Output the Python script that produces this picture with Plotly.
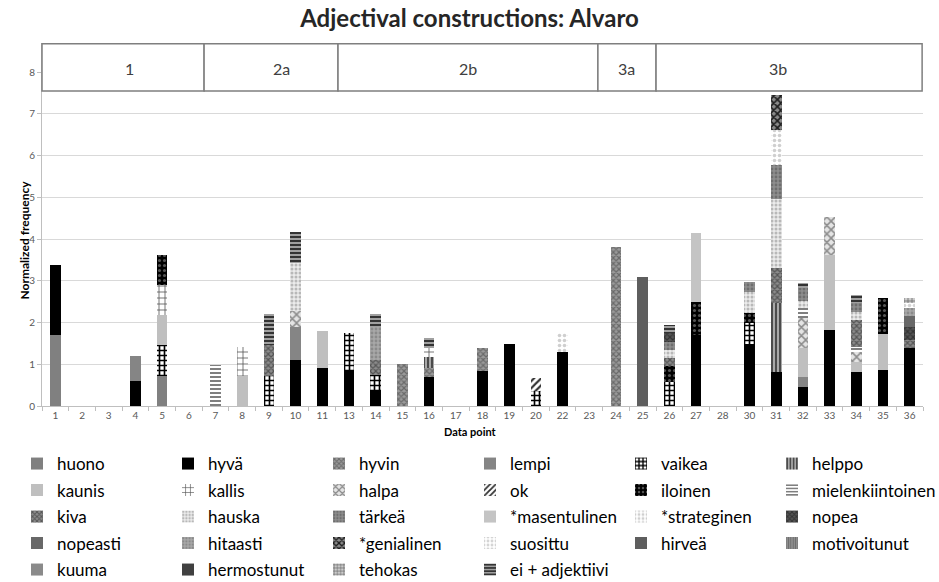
import plotly.graph_objects as go

# ---------------- data ----------------
categories = ["1", "2", "3", "4", "5", "6", "7", "8", "9", "10", "11",
              "13", "14", "15", "16", "17", "18", "19", "20", "22", "23",
              "24", "25", "26", "27", "28", "30", "31", "32", "33", "34", "35", "36"]

# values per category (rows: 1-11 | 13-23 | 24-36)
huono = [1.69, 0, 0, 0, 0.72, 0, 0, 0, 0, 0, 0,
         0, 0, 0, 0, 0, 0, 0, 0, 0, 0,
         0, 0, 0, 0, 0, 0, 0, 0, 0, 0, 0, 0]
hyva = [1.69, 0, 0, 0.60, 0, 0, 0, 0, 0, 1.11, 0.90,
        0.84, 0.39, 0, 0.70, 0, 0.84, 1.49, 0, 1.30, 0,
        0, 0, 0, 1.70, 0, 1.48, 0.82, 0.46, 1.82, 0.82, 0.86, 1.38]
hyvin = [0, 0, 0, 0, 0, 0, 0, 0, 0, 0, 0,
         0, 0, 1.00, 0.20, 0, 0.55, 0, 0, 0, 0,
         3.82, 0, 0, 0, 0, 0, 0, 0, 0, 0, 0, 0]
lempi = [0, 0, 0, 0.60, 0, 0, 0, 0, 0, 0.79, 0,
         0, 0, 0, 0, 0, 0, 0, 0, 0, 0,
         0, 0, 0, 0, 0, 0, 0, 0.23, 0, 0, 0, 0]
vaikea = [0, 0, 0, 0, 0.74, 0, 0, 0, 0.72, 0, 0,
          0.90, 0.35, 0, 0, 0, 0, 0, 0.36, 0, 0,
          0, 0, 0.58, 0, 0, 0.52, 0, 0, 0, 0, 0, 0]
helppo = [0, 0, 0, 0, 0, 0, 0, 0, 0, 0, 0,
          0, 0, 0, 0.28, 0, 0, 0, 0, 0, 0,
          0, 0, 0, 0, 0, 0, 1.65, 0, 0, 0, 0, 0]
kaunis = [0, 0, 0, 0, 0.72, 0, 0, 0.72, 0, 0, 0.90,
          0, 0, 0, 0, 0, 0, 0, 0, 0, 0,
          0, 0, 0, 0, 0, 0, 0, 0.69, 1.81, 0.24, 0.86, 0]
kallis = [0, 0, 0, 0, 0.72, 0, 0, 0.70, 0, 0, 0,
          0, 0, 0, 0.20, 0, 0, 0, 0, 0, 0,
          0, 0, 0, 0, 0, 0, 0, 0, 0, 0, 0, 0]
halpa = [0, 0, 0, 0, 0, 0, 0, 0, 0, 0.37, 0,
         0, 0, 0, 0, 0, 0, 0, 0, 0, 0,
         0, 0, 0, 0, 0, 0, 0, 0.74, 0.91, 0.24, 0, 0]
ok = [0, 0, 0, 0, 0, 0, 0, 0, 0, 0, 0,
      0, 0, 0, 0, 0, 0, 0, 0.30, 0, 0,
      0, 0, 0, 0, 0, 0, 0, 0, 0, 0, 0, 0]
iloinen = [0, 0, 0, 0, 0.71, 0, 0, 0, 0, 0, 0,
           0, 0, 0, 0, 0, 0, 0, 0, 0, 0,
           0, 0, 0.37, 0.80, 0, 0.24, 0, 0, 0, 0, 0.88, 0]
mielenkiintoinen = [0, 0, 0, 0, 0, 0, 0.98, 0, 0, 0, 0,
                    0, 0, 0, 0, 0, 0, 0, 0, 0, 0,
                    0, 0, 0, 0, 0, 0, 0, 0.23, 0, 0.12, 0, 0]
kiva = [0, 0, 0, 0, 0, 0, 0, 0, 0.74, 0, 0,
        0, 0.37, 0, 0, 0, 0, 0, 0, 0, 0,
        0, 0, 0.19, 0, 0, 0, 0.83, 0, 0, 0.64, 0, 0.20]
hauska = [0, 0, 0, 0, 0, 0, 0, 0, 0, 1.15, 0,
          0, 0, 0, 0, 0, 0, 0, 0, 0, 0,
          0, 0, 0.20, 0, 0, 0.50, 1.65, 0.17, 0, 0.20, 0, 0]
tarkea = [0, 0, 0, 0, 0, 0, 0, 0, 0, 0, 0,
          0, 0, 0, 0, 0, 0, 0, 0, 0, 0,
          0, 0, 0.20, 0, 0, 0.24, 0.83, 0.30, 0, 0.20, 0, 0]
masentulinen = [0, 0, 0, 0, 0, 0, 0, 0, 0, 0, 0,
                0, 0, 0, 0, 0, 0, 0, 0, 0, 0,
                0, 0, 0, 1.65, 0, 0, 0, 0, 0, 0, 0, 0]
strateginen = [0, 0, 0, 0, 0, 0, 0, 0, 0, 0, 0,
               0, 0, 0, 0, 0, 0, 0, 0, 0.44, 0,
               0, 0, 0, 0, 0, 0, 0.84, 0, 0, 0, 0, 0]
nopea = [0, 0, 0, 0, 0, 0, 0, 0, 0, 0, 0,
         0, 0, 0, 0, 0, 0, 0, 0, 0, 0,
         0, 0, 0.20, 0, 0, 0, 0, 0, 0, 0, 0, 0.32]
nopeasti = [0, 0, 0, 0, 0, 0, 0, 0, 0, 0, 0,
            0, 0, 0, 0, 0, 0, 0, 0, 0, 0,
            0, 0, 0, 0, 0, 0, 0, 0, 0, 0, 0, 0.25]
hitaasti = [0, 0, 0, 0, 0, 0, 0, 0, 0, 0, 0,
            0, 0.79, 0, 0, 0, 0, 0, 0, 0, 0,
            0, 0, 0, 0, 0, 0, 0, 0, 0, 0, 0, 0.19]
genialinen = [0, 0, 0, 0, 0, 0, 0, 0, 0, 0, 0,
              0, 0, 0, 0, 0, 0, 0, 0, 0, 0,
              0, 0, 0, 0, 0, 0, 0.84, 0, 0, 0, 0, 0]
suosittu = [0, 0, 0, 0, 0, 0, 0, 0, 0, 0, 0,
            0, 0, 0, 0, 0, 0, 0, 0, 0, 0,
            0, 0, 0, 0, 0, 0, 0, 0, 0, 0, 0, 0.12]
hirvea = [0, 0, 0, 0, 0, 0, 0, 0, 0, 0, 0,
          0, 0, 0, 0, 0, 0, 0, 0, 0, 0,
          0, 3.08, 0, 0, 0, 0, 0, 0, 0, 0, 0, 0]
motivoitunut = [0] * 33
kuuma = [0] * 33
hermostunut = [0] * 33
tehokas = [0, 0, 0, 0, 0, 0, 0, 0, 0, 0, 0,
           0, 0, 0, 0, 0, 0, 0, 0, 0, 0,
           0, 0, 0, 0, 0, 0, 0, 0, 0, 0, 0, 0.12]
ei_adjektiivi = [0, 0, 0, 0, 0, 0, 0, 0, 0.74, 0.74, 0,
                 0, 0.30, 0, 0.24, 0, 0, 0, 0, 0, 0,
                 0, 0, 0.20, 0, 0, 0, 0, 0.14, 0, 0.20, 0, 0]

series_names = ["huono", "hyvä", "hyvin", "lempi", "vaikea", "helppo",
                "kaunis", "kallis", "halpa", "ok", "iloinen", "mielenkiintoinen",
                "kiva", "hauska", "tärkeä", "*masentulinen", "*strateginen", "nopea",
                "nopeasti", "hitaasti", "*genialinen", "suosittu", "hirveä", "motivoitunut",
                "kuuma", "hermostunut", "tehokas", "ei + adjektiivi"]
series_values = [huono, hyva, hyvin, lempi, vaikea, helppo,
                 kaunis, kallis, halpa, ok, iloinen, mielenkiintoinen,
                 kiva, hauska, tarkea, masentulinen, strateginen, nopea,
                 nopeasti, hitaasti, genialinen, suosittu, hirvea, motivoitunut,
                 kuuma, hermostunut, tehokas, ei_adjektiivi]

group_labels = ["1", "2a", "2b", "3a", "3b"]

# ---------------- styles ----------------
# (shape, fgcolor, bgcolor, size, solidity)
styles = [
    ("", "#808080", "#808080", 6, 0.3),      # huono
    ("", "#000000", "#000000", 6, 0.3),      # hyvä
    ("x", "#6a6a6a", "#9a9a9a", 4, 0.5),     # hyvin
    ("", "#858585", "#858585", 6, 0.3),      # lempi
    ("+", "#000000", "#ffffff", 5, 0.55),    # vaikea
    ("|", "#333333", "#a8a8a8", 4, 0.4),     # helppo
    ("", "#bfbfbf", "#bfbfbf", 6, 0.3),      # kaunis
    ("+", "#555555", "#ffffff", 6, 0.25),    # kallis
    ("x", "#8c8c8c", "#e4e4e4", 6, 0.45),    # halpa
    ("/", "#333333", "#ffffff", 5, 0.45),    # ok
    (".", "#555555", "#000000", 5, 0.3),     # iloinen
    ("-", "#707070", "#ffffff", 4, 0.45),    # mielenkiintoinen
    ("x", "#555555", "#8c8c8c", 4, 0.5),     # kiva
    (".", "#b8b8b8", "#ececec", 4, 0.45),    # hauska
    (".", "#6e6e6e", "#8e8e8e", 4, 0.4),     # tärkeä
    ("", "#c4c4c4", "#c4c4c4", 6, 0.3),      # masentulinen
    (".", "#cfcfcf", "#ffffff", 5, 0.4),     # strateginen
    ("x", "#333333", "#555555", 4, 0.5),     # nopea
    ("", "#686868", "#686868", 6, 0.3),      # nopeasti
    (".", "#8a8a8a", "#a8a8a8", 4, 0.4),     # hitaasti
    ("x", "#1e1e1e", "#8a8a8a", 5, 0.55),    # genialinen
    (".", "#d4d4d4", "#ffffff", 5, 0.4),     # suosittu
    ("", "#5e5e5e", "#5e5e5e", 6, 0.3),      # hirveä
    ("|", "#6a6a6a", "#9a9a9a", 3, 0.5),     # motivoitunut
    ("", "#8a8a8a", "#8a8a8a", 6, 0.3),      # kuuma
    ("", "#404040", "#404040", 6, 0.3),      # hermostunut
    ("+", "#666666", "#cccccc", 4, 0.35),    # tehokas
    ("-", "#333333", "#a0a0a0", 4, 0.5),     # ei + adjektiivi
]

FONT = "Lato"
PLOT_BOTTOM = 406.0   # px
PLOT_H = 363.0        # px
LEFT = 42.0
PLOT_W = 881.0

def py_to_paper(py):
    return (PLOT_BOTTOM - py) / PLOT_H

def px_to_paper(px):
    return (px - LEFT) / PLOT_W

row_y_px = [464, 490.5, 517, 543.5, 570]
LEG_X0 = 17
COL_W = 151

def legend_id(n):
    return "legend" if n == 1 else "legend%d" % n

fig = go.Figure()
for k, (name, vals, (shape, fg, bg, size, sol)) in enumerate(zip(series_names, series_values, styles)):
    row, col = divmod(k, 6)
    lid = legend_id(6 + row) if col == 5 else legend_id(row + 1)
    pattern = dict(shape=shape, fgcolor=fg, bgcolor=bg, size=size,
                   solidity=sol, fillmode="replace")
    fig.add_trace(go.Bar(
        name=name, x=categories, y=vals,
        marker=dict(color=bg, line=dict(width=0), pattern=pattern),
        legend=lid,
    ))

# header boxes (paper x fractions)
bounds = [0.0, 0.184, 0.336, 0.631, 0.697, 0.999]
shapes = []
annotations = []
for i, lab in enumerate(group_labels):
    shapes.append(dict(type="rect", xref="paper", yref="y",
                       x0=bounds[i], x1=bounds[i + 1], y0=7.55, y1=8.68,
                       line=dict(color="#7f7f7f", width=1.5), fillcolor="white",
                       layer="above"))
    annotations.append(dict(xref="paper", yref="y",
                            x=(bounds[i] + bounds[i + 1]) / 2, y=8.1,
                            text=lab, showarrow=False,
                            font=dict(family=FONT, size=16, color="#404040")))

annotations.append(dict(xref="paper", yref="paper", x=px_to_paper(470), y=py_to_paper(440),
                        text="<b>Data point</b>", showarrow=False,
                        font=dict(family=FONT, size=11, color="#000000")))
annotations.append(dict(xref="paper", yref="paper", x=px_to_paper(14), y=py_to_paper(240),
                        text="<b>Normalized frequency</b>", showarrow=False,
                        textangle=-90,
                        font=dict(family=FONT, size=12, color="#000000")))

legend_layouts = {}
leg_font = dict(family=FONT, size=17, color="#000000")
for r, ypx in enumerate(row_y_px):
    legend_layouts[legend_id(r + 1)] = dict(
        orientation="h", x=px_to_paper(LEG_X0), y=py_to_paper(ypx),
        xanchor="left", yanchor="middle",
        entrywidth=COL_W - 45, entrywidthmode="pixels", traceorder="normal",
        font=leg_font, bgcolor="rgba(0,0,0,0)")
for r, ypx in enumerate(row_y_px[:4]):
    legend_layouts[legend_id(6 + r)] = dict(
        orientation="h", x=px_to_paper(LEG_X0 + 5 * COL_W), y=py_to_paper(ypx),
        xanchor="left", yanchor="middle", traceorder="normal",
        font=leg_font, bgcolor="rgba(0,0,0,0)")

fig.update_layout(
    width=939, height=582,
    barmode="stack", bargap=0.6,
    paper_bgcolor="white", plot_bgcolor="white",
    margin=dict(l=42, r=16, t=43, b=176, autoexpand=False),
    title=dict(text="<b>Adjectival constructions: Alvaro</b>", x=0.5, y=0.968,
               xanchor="center", yanchor="middle",
               font=dict(family=FONT, size=24, color="#262626")),
    font=dict(family=FONT, color="#595959"),
    xaxis=dict(type="category", showline=True, linecolor="#bfbfbf",
               ticks="outside", tickson="boundaries", ticklen=4, tickcolor="#bfbfbf",
               tickfont=dict(size=10, color="#595959"), showgrid=False),
    yaxis=dict(range=[0, 8.7], dtick=1, tick0=0, showgrid=True, gridcolor="#d9d9d9",
               zeroline=False, showline=True, linecolor="#bfbfbf",
               ticks="outside", ticklen=4, tickcolor="#bfbfbf",
               tickfont=dict(size=10, color="#595959")),
    shapes=shapes, annotations=annotations,
    showlegend=True,
    **legend_layouts,
)

fig.write_html("out.html", config={"displayModeBar": False},
               post_script="document.body.style.margin='0px';")
